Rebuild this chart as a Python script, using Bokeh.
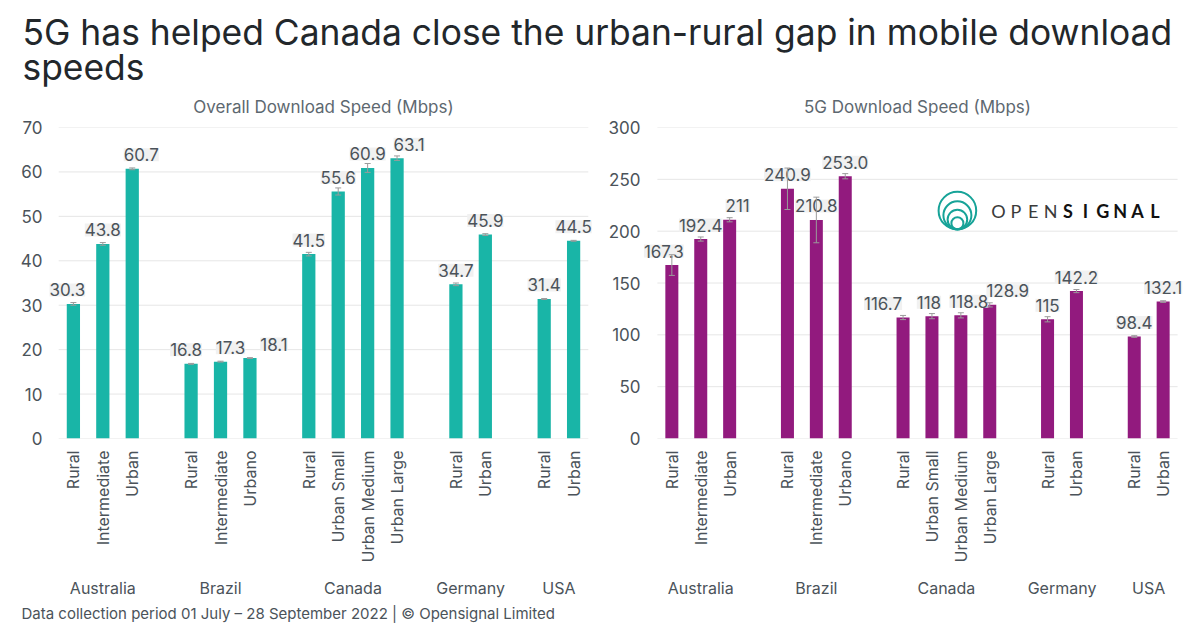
import math
from bokeh.plotting import figure
from bokeh.models import FactorRange, ColumnDataSource, Whisker, Range1d, TeeHead, LabelSet
from bokeh.layouts import column, row
from bokeh.embed import file_html
from bokeh.resources import INLINE
from bokeh.core.properties import value

# ---- data -------------------------------------------------------------
countries = ["Australia", "Australia", "Australia",
             "Brazil", "Brazil", "Brazil",
             "Canada", "Canada", "Canada", "Canada",
             "Germany", "Germany",
             "USA", "USA"]
areas = ["Rural", "Intermediate", "Urban",
         "Rural", "Intermediate", "Urbano",
         "Rural", "Urban Small", "Urban Medium", "Urban Large",
         "Rural", "Urban",
         "Rural", "Urban"]

overall_speed = [30.3, 43.8, 60.7, 16.8, 17.3, 18.1, 41.5, 55.6, 60.9, 63.1, 34.7, 45.9, 31.4, 44.5]
overall_err = [0.3, 0.3, 0.2, 0.1, 0.1, 0.1, 0.4, 0.8, 1.0, 0.5, 0.3, 0.2, 0.1, 0.1]
overall_text = ["30.3", "43.8", "60.7", "16.8", "17.3", "18.1", "41.5", "55.6", "60.9", "63.1",
                "34.7", "45.9", "31.4", "44.5"]

fiveg_speed = [167.3, 192.4, 211.0, 240.9, 210.8, 253.0, 116.7, 118.0, 118.8, 128.9, 115.0, 142.2, 98.4, 132.1]
fiveg_err = [10, 2, 2, 20, 22, 2.5, 2, 2.5, 2.5, 2, 2.5, 1.5, 0.8, 0.8]
fiveg_text = ["167.3", "192.4", "211", "240.9", "210.8", "253.0", "116.7", "118", "118.8", "128.9",
              "115", "142.2", "98.4", "132.1"]

overall_ticks = [0, 10, 20, 30, 40, 50, 60, 70]
fiveg_ticks = [0, 50, 100, 150, 200, 250, 300]

# ---- style ------------------------------------------------------------
FONT = "Inter"
TEAL = "#19b5a7"
PURPLE = "#921a7e"
TEXT = "#4b535a"
SUB = "#5d6870"
GRID = "#e6e6e6"
ERR = "#9b9b9b"

# horizontal nudges (px) so neighbouring value boxes don't collide
overall_nudge = [-6, 0, 9, -5, 10, 24, 0, 0, 0, 12, 0, 0, 0, 0]
fiveg_nudge = [-8, 0, 8, 0, 0, 0, -20, -3, 8, 18, 0, 0, 0, 0]

factors = list(zip(countries, areas))
GROUP_GAP = 1.0
n_groups = len(dict.fromkeys(countries))
SLOTS = len(factors) + GROUP_GAP * (n_groups - 1)   # synthetic width of the bars block
EDGE = 0.55                                         # extra slots each side so edge labels fit

label_extra = {"padding": 3} if "padding" in LabelSet.properties() else {}


def panel(vals, errs, texts, nudge, ticks, color, ymax, width, left, right, standoff):
    src = ColumnDataSource(dict(
        x=factors, top=vals,
        upper=[v + e for v, e in zip(vals, errs)],
        lower=[v - e for v, e in zip(vals, errs)],
        label=texts, dx=nudge))
    xr = FactorRange(*factors, group_padding=GROUP_GAP, factor_padding=0.0,
                     range_padding=2 * EDGE / SLOTS, range_padding_units="percent")
    p = figure(x_range=xr, y_range=Range1d(0, ymax), width=width, height=484,
               min_border_left=left, min_border_right=right, min_border_top=11, min_border_bottom=158,
               toolbar_location=None, output_backend="svg")
    p.outline_line_color = None
    p.background_fill_color = "white"
    p.border_fill_color = "white"

    # horizontal grid lines spanning only the bars block
    p.segment(x0=[0] * len(ticks), x1=[SLOTS] * len(ticks), y0=ticks, y1=ticks,
              line_color=GRID, line_width=1, level="underlay")

    p.vbar(x="x", top="top", width=0.45, source=src, fill_color=color, line_color=None)
    p.add_layout(LabelSet(x="x", y="top", text="label", source=src, x_offset="dx", y_offset=14,
                          text_align="center", text_baseline="middle",
                          text_font=value(FONT), text_font_size="17px", text_color=TEXT,
                          background_fill_color="#f1f1f1", level="overlay", **label_extra))
    p.add_layout(Whisker(base="x", upper="upper", lower="lower", source=src, level="overlay",
                         line_color=ERR, line_width=1,
                         upper_head=TeeHead(size=6, line_color=ERR, line_width=1),
                         lower_head=TeeHead(size=6, line_color=ERR, line_width=1)))

    p.grid.grid_line_color = None

    p.yaxis.ticker = ticks
    p.yaxis.axis_line_color = None
    p.yaxis.major_tick_line_color = None
    p.yaxis.minor_tick_line_color = None
    p.yaxis.major_tick_out = 0
    p.yaxis.major_tick_in = 0
    p.yaxis.minor_tick_out = 0
    p.yaxis.major_label_text_font = FONT
    p.yaxis.major_label_text_font_size = "17px"
    p.yaxis.major_label_text_color = TEXT
    p.yaxis.major_label_standoff = standoff

    ax = p.xaxis[0]
    ax.axis_line_color = None
    ax.major_tick_line_color = None
    ax.minor_tick_line_color = None
    ax.major_tick_out = 0
    ax.major_tick_in = 0
    ax.minor_tick_out = 0
    ax.separator_line_color = None
    ax.major_label_orientation = math.pi / 2
    ax.major_label_standoff = 12
    ax.major_label_text_font = FONT
    ax.major_label_text_font_size = "16px"
    ax.major_label_text_color = TEXT
    ax.group_text_font = FONT
    ax.group_text_font_size = "16px"
    ax.group_text_font_style = "normal"
    ax.group_text_color = TEXT
    return p


left = panel(overall_speed, overall_err, overall_text, overall_nudge, overall_ticks, TEAL, 70,
             604, 42, 0, 0)
right = panel(fiveg_speed, fiveg_err, fiveg_text, fiveg_nudge, fiveg_ticks, PURPLE, 300,
              596, 37, 7, 1)

# Opensignal logo inside the 5G panel (synthetic slot units across, Mbps up)
SLOT_PX = 28.9
MBPS_PX = 315 / 300.0
logo_x = (957 - 657) / SLOT_PX
for r in [18.8, 14.0, 9.8, 6.0]:
    right.circle(x=[logo_x], y=[(212 + r) / MBPS_PX], radius=r, radius_units="screen",
                 fill_color=None, line_color="#17a398", line_width=2)
letters = list("OPENSIGNAL")
right.text(x=[(341 + 17.4 * i) / SLOT_PX for i in range(len(letters))], y=[230 / MBPS_PX] * len(letters),
           text=letters, text_align="center", text_baseline="middle", text_font=value("Lato"),
           text_font_size="18px",
           text_font_style=["normal"] * 4 + ["bold"] * 6,
           text_color=["#3a3a3a"] * 4 + ["#111111"] * 6)


def strip(h):
    f = figure(width=1200, height=h, x_range=Range1d(0, 1200), y_range=Range1d(h, 0),
               min_border=0, toolbar_location=None, output_backend="svg")
    f.axis.visible = False
    f.grid.visible = False
    f.outline_line_color = None
    return f


header = strip(116)
header.text(x=[22, 22], y=[32, 67],
            text=["5G has helped Canada close the urban-rural gap in mobile download", "speeds"],
            text_align="left", text_baseline="middle", text_font=value(FONT),
            text_font_size="35.4px", text_color="#22272b")
header.text(x=[323, 917], y=[106, 106],
            text=["Overall Download Speed (Mbps)", "5G Download Speed (Mbps)"],
            text_align="center", text_baseline="middle", text_font=value(FONT),
            text_font_size="17px", text_color=SUB)

footer = strip(32)
footer.text(x=[21], y=[13],
            text=["Data collection period 01 July \u2013 28 September 2022  |  \u00a9 Opensignal Limited"],
            text_align="left", text_baseline="middle", text_font=value(FONT),
            text_font_size="15px", text_color=TEXT)

page = column(header, row(left, right), footer)
open("out.html", "w").write(file_html(page, INLINE))
